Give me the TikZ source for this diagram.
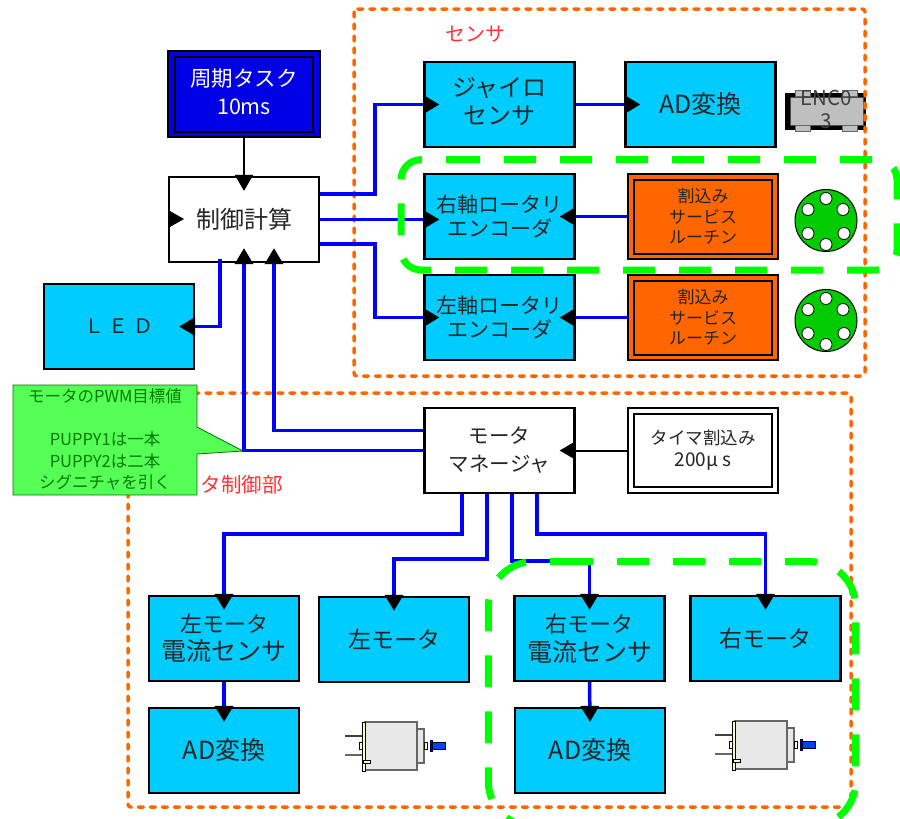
\documentclass[tikz,border=0pt]{standalone}
\usepackage{fontspec}
\setmainfont{Noto Sans CJK JP}
\usetikzlibrary{arrows.meta,calc}
\definecolor{cyanbox}{HTML}{00CCFF}
\definecolor{orangebox}{HTML}{FF6600}
\definecolor{taskblue}{HTML}{0000E6}
\definecolor{linkblue}{HTML}{0000FF}
\definecolor{dashgreen}{HTML}{00FF00}
\definecolor{wheelgreen}{HTML}{00CC00}
\definecolor{notegreen}{HTML}{55FF55}
\definecolor{notetext}{HTML}{007A00}
\definecolor{labelred}{HTML}{FF3333}
\definecolor{cream}{HTML}{FFFFCC}
\newcommand{\fs}[2]{\fontsize{#1}{#2}\selectfont}
\tikzset{
  block/.style={draw=black,line width=2.2pt,minimum width=150pt,minimum height=85pt,inner sep=0pt,align=center,text=black!85},
  cyanblock/.style={block,fill=cyanbox},
  whiteblock/.style={block,fill=white},
  frame/.style={draw=black,line width=2.2pt},
  link/.style={draw=linkblue,line width=3.5pt,-{Triangle[length=16pt,width=18pt,color=black,fill=black]}},
  blacklink/.style={draw=black,line width=2pt,-{Triangle[length=16pt,width=18pt,color=black,fill=black]}},
  region/.style={draw=orangebox,line width=3.5pt,line cap=round,dash pattern=on 5pt off 7pt,rounded corners=3pt},
  zone/.style={draw=dashgreen,line width=7pt,dash pattern=on 32pt off 24pt},
  redlabel/.style={text=labelred,inner sep=0pt},
  wheel/.pic={
    \draw[black,line width=1pt,fill=wheelgreen] (0,0) circle (31pt);
    \foreach \dx/\dy in {0/-22,17/-11,18/13,0/24,-18/13,-18/-11}
      \draw[black,line width=.8pt,fill=white] (\dx,\dy) circle (6pt);
  },
  motor/.pic={
    \draw[black!75,line width=1.2pt] (15,36)--(33,36);
    \draw[black!60,line width=1.5pt] (15,55)--(33,55);
    \draw[black!60,line width=1.3pt,fill=black!9] (87,29) rectangle (94,63);
    \draw[black!60,line width=1.5pt,fill=black!9] (35,22) rectangle (87,70);
    \draw[black,line width=.6pt,fill=cream] (29,42) rectangle (33,49);
    \draw[black,line width=.6pt,fill=cream] (32.5,22) rectangle (35,71);
    \draw[black,line width=.6pt,fill=cream] (33,60) rectangle (40,63);
    \draw[black,line width=.6pt,fill=cream] (94,42) rectangle (97,49);
    \fill[blue!40!black] (100,40) rectangle (102.5,52);
    \draw[black,line width=.8pt,fill=blue!75!cyan] (102,42) rectangle (115,49.5);
  }
}
\begin{document}
\begin{tikzpicture}[x=1pt,y=-1pt]
\useasboundingbox (0,0) rectangle (900,819);
% encoder part
\draw[black,line width=.1pt,fill=black] (785,93) rectangle (865,129);
\draw[black!70,line width=.8pt,fill=black!25] (790,97) rectangle (863,125);
\foreach \px/\py in {795/90,842/90,795/125,842/125}
  \draw[black!60,line width=.6pt,fill=black!25] (\px,\py) rectangle ++(15,6);
\node[text=black!75,font=\fs{20.5}{23},inner sep=0pt,align=center] (enc) at (826,109) {ENC0\\3};
% regions
\draw[region] (354,9) rectangle (865,376);
\draw[region] (128,393) rectangle (851,807);
\node[redlabel,font=\fs{20}{24}] (sensorlabel) at (475,34) {センサ};
\node[redlabel,font=\fs{20.5}{24}] (motorlabel) at (241.5,485) {タ制御部};
% blocks
\node[block,fill=taskblue,minimum width=152pt,minimum height=86pt,text=white] (task) at (244,94) {};
\draw[frame] (175,57) rectangle (313,132);
\node[text=white,font=\fs{21.5}{28},align=center,inner sep=0pt] (tasklabel) at (244,92) {周期タスク\\10ms};
\node[whiteblock,font=\fs{24}{30}] (calc) at (244,219.5) {制御計算};
\node[cyanblock,font=\fs{20}{26}] (led) at (119,326.5) {Ｌ Ｅ Ｄ};
\node[cyanblock] (gyro) at (499.5,104.5) {};
\node[font=\fs{24}{28},align=center,inner sep=0pt,text=black!85] (gyrolabel) at (499.5,102) {ジャイロ\\センサ};
\node[cyanblock,font=\fs{25}{30}] (ad1) at (700.5,104.5) {AD変換};
\node[cyanblock,font=\fs{21}{24}] (renc) at (499.5,216.5) {右軸ロータリ\\エンコーダ};
\node[cyanblock,font=\fs{21}{24}] (lenc) at (499.5,317.5) {左軸ロータリ\\エンコーダ};
\node[block,fill=orangebox] (risr) at (703,216.5) {};
\draw[frame] (634,180) rectangle (772,254);
\node[font=\fs{17}{20.5},align=center,inner sep=0pt,text=black!85] (risrlabel) at (703,216.5) {割込み\\サービス\\ルーチン};
\node[block,fill=orangebox] (lisr) at (703,317.5) {};
\draw[frame] (634,281) rectangle (772,355);
\node[font=\fs{17}{20.5},align=center,inner sep=0pt,text=black!85] (lisrlabel) at (703,317.5) {割込み\\サービス\\ルーチン};
\pic at (826,220.5) {wheel};
\pic at (826,320.5) {wheel};
\node[whiteblock,font=\fs{20.5}{28}] (mgr) at (499.5,450.5) {モータ\\マネージャ};
\node[whiteblock] (timer) at (703,450.5) {};
\draw[black,line width=2pt] (634,414) rectangle (772,487);
\node[align=center,inner sep=0pt,text=black!85] (timerlabel) at (703,450.5) {\fs{17.5}{25}タイマ割込み\\[6pt]\fs{19}{25}200μ s};
\node[cyanblock] (lcur) at (224,638.5) {\fs{22}{29}左モータ\\[5pt]\fs{25}{29}電流センサ};
\node[cyanblock,font=\fs{23}{30}] (lmot) at (394,639.5) {左モータ};
\node[cyanblock] (rcur) at (589.5,638.5) {\fs{22}{29}右モータ\\[5pt]\fs{25}{29}電流センサ};
\node[cyanblock,font=\fs{23}{30}] (rmot) at (765.5,638.5) {右モータ};
\node[cyanblock,font=\fs{25}{30}] (ad2) at (224,750.5) {AD変換};
\node[cyanblock,font=\fs{25}{30}] (ad3) at (590,750.5) {AD変換};
\pic at (330,700) {motor};
\pic at (700,699) {motor};
% callout
\draw[draw=green!45!black,line width=.8pt,fill=notegreen] (13,385) -- (197,385) -- (197,427) -- (243,451) -- (197,454) -- (197,495) -- (13,495) -- cycle;
\node[text=notetext,font=\fs{16.5}{21.5},align=center,inner sep=0pt] (note) at (105,439.5) {モータのPWM目標値\\\mbox{}\\PUPPY1は一本\\PUPPY2は二本\\シグニチャを引く};
% connectors
\draw[blacklink] (task.south) -- ([yshift=-15]calc.north);
\fill[black] (169,210.5) -- (184,219) -- (169,227.5) -- cycle;
\draw[link] ([yshift=25.5]calc.east) -- ++(55,0) |- ([xshift=16]gyro.west);
\draw[link] (calc.east) -- ([xshift=16,yshift=-3]renc.west);
\draw[link] ([yshift=-24.5]calc.east) -- ++(55,0) |- ([xshift=16]lenc.west);
\draw[link] (gyro.east) -- ([xshift=16]ad1.west);
\draw[link] (risr.west) -- ([xshift=-16]renc.east);
\draw[link] (lisr.west) -- ([xshift=-16]lenc.east);
\draw[link] ([xshift=-24,yshift=4]calc.south) |- ([xshift=-16]led.east);
\draw[link] (mgr.west) -| ([yshift=15]calc.south);
\draw[link] ([yshift=20]mgr.west) -| ([xshift=30,yshift=15]calc.south);
\draw[blacklink] (timer.west) -- ([xshift=-16]mgr.east);
\draw[link] ([xshift=-37.5]mgr.south) -- ++(0,40) -| ([yshift=-15]lcur.north);
\draw[link] ([xshift=-12.5]mgr.south) -- ++(0,65) -| ([yshift=-15]lmot.north);
\draw[link] ([xshift=12.5]mgr.south) -- ++(0,67) -| ([yshift=-15]rcur.north);
\draw[link] ([xshift=37.5]mgr.south) -- ++(0,40) -| ([yshift=-15]rmot.north);
\draw[link] (lcur.south) -- ([yshift=-15]ad2.north);
\draw[link] (rcur.south) -- ([yshift=-15]ad3.north);
% green zones
\draw[zone,rounded corners=20pt] (448,159.7) -- (897,159.7) -- (897,270) -- (401,270) -- (401,159.7) -- (448,159.7);
\draw[zone,rounded corners=45pt] (561,561.7) -- (855.7,561.7) -- (855.7,826.5) -- (488.3,826.5) -- (488.3,561.7) -- (561,561.7);
\end{tikzpicture}
\end{document}
